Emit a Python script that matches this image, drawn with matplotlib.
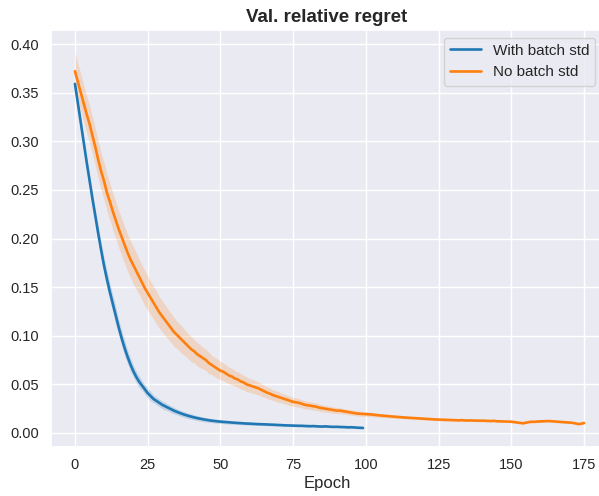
import numpy as np
import matplotlib
matplotlib.use("Agg")
import matplotlib.pyplot as plt
import seaborn as sns

# Mean validation relative regret per epoch, with half-width of the confidence band
with_std_mean = [
    0.359, 0.339, 0.319, 0.299, 0.279, 0.260, 0.241, 0.223, 0.205, 0.188,
    0.172, 0.158, 0.145, 0.133, 0.121, 0.109, 0.098, 0.088, 0.079, 0.071,
    0.064, 0.058, 0.053, 0.049, 0.045, 0.041, 0.038, 0.035, 0.033, 0.031,
    0.029, 0.0275, 0.026, 0.0245, 0.023, 0.0218, 0.0206, 0.0195, 0.0185, 0.0176,
    0.0168, 0.0160, 0.0153, 0.0147, 0.0141, 0.0136, 0.0131, 0.0127, 0.0123, 0.0120,
    0.0117, 0.0114, 0.0112, 0.0110, 0.0107, 0.0105, 0.0103, 0.0101, 0.0099, 0.0097,
    0.0096, 0.0094, 0.0093, 0.0091, 0.0090, 0.0089, 0.0088, 0.0086, 0.0085, 0.0084,
    0.0082, 0.0081, 0.0079, 0.0078, 0.0077, 0.0076, 0.0075, 0.0074, 0.0074, 0.0072,
    0.0071, 0.0070, 0.0071, 0.0069, 0.0067, 0.0066, 0.0068, 0.0066, 0.0064, 0.0063,
    0.0064, 0.0062, 0.0061, 0.0060, 0.0058, 0.0059, 0.0057, 0.0055, 0.0053, 0.0052,
]
with_std_band = [
    0.003, 0.004, 0.005, 0.005, 0.006, 0.006, 0.007, 0.007, 0.008, 0.008,
    0.008, 0.009, 0.009, 0.009, 0.009, 0.008, 0.008, 0.008, 0.007, 0.007,
    0.006, 0.006, 0.006, 0.005, 0.005, 0.005, 0.005, 0.004, 0.004, 0.004,
    0.004, 0.004, 0.0035, 0.0035, 0.0035, 0.003, 0.003, 0.003, 0.003, 0.003,
    0.0028, 0.0027, 0.0026, 0.0025, 0.0024, 0.0023, 0.0022, 0.0021, 0.0020, 0.0020,
    0.0019, 0.0019, 0.0018, 0.0018, 0.0017, 0.0017, 0.0016, 0.0016, 0.0015, 0.0015,
    0.0015, 0.0014, 0.0014, 0.0014, 0.0013, 0.0013, 0.0013, 0.0012, 0.0012, 0.0012,
    0.0012, 0.0011, 0.0011, 0.0011, 0.0011, 0.0011, 0.0010, 0.0010, 0.0010, 0.0010,
    0.0010, 0.0010, 0.0010, 0.0010, 0.0009, 0.0009, 0.0009, 0.0009, 0.0009, 0.0009,
    0.0009, 0.0009, 0.0008, 0.0008, 0.0008, 0.0008, 0.0008, 0.0008, 0.0008, 0.0008,
]

no_std_mean = [
    0.372, 0.361, 0.350, 0.339, 0.328, 0.318, 0.306, 0.294, 0.281, 0.269,
    0.259, 0.247, 0.238, 0.228, 0.219, 0.210, 0.202, 0.194, 0.186, 0.179,
    0.173, 0.167, 0.161, 0.155, 0.149, 0.144, 0.139, 0.134, 0.129, 0.124,
    0.120, 0.116, 0.112, 0.108, 0.104, 0.101, 0.098, 0.095, 0.092, 0.089,
    0.086, 0.084, 0.081, 0.079, 0.077, 0.075, 0.072, 0.070, 0.068, 0.066,
    0.064, 0.063, 0.061, 0.059, 0.058, 0.056, 0.055, 0.053, 0.052, 0.050,
    0.049, 0.048, 0.047, 0.046, 0.0445, 0.043, 0.0415, 0.0405, 0.039, 0.038,
    0.037, 0.036, 0.035, 0.034, 0.033, 0.032, 0.0315, 0.031, 0.030, 0.029,
    0.0285, 0.028, 0.0275, 0.027, 0.026, 0.0255, 0.025, 0.0245, 0.024, 0.0235,
    0.023, 0.023, 0.0225, 0.022, 0.0215, 0.021, 0.0205, 0.020, 0.0198, 0.0196,
    0.0195, 0.0192, 0.0190, 0.0186, 0.0183, 0.0180, 0.0177, 0.0175, 0.0172, 0.0170,
    0.0168, 0.0165, 0.0162, 0.0160, 0.0158, 0.0156, 0.0153, 0.0151, 0.0150, 0.0148,
    0.0145, 0.0143, 0.0142, 0.0140, 0.0139, 0.0138, 0.0136, 0.0135, 0.0134, 0.0134,
    0.0133, 0.0131, 0.0130, 0.0132, 0.0129, 0.0128, 0.0130, 0.0127, 0.0128, 0.0126,
    0.0127, 0.0125, 0.0124, 0.0123, 0.0125, 0.0121, 0.0120, 0.0119, 0.0118, 0.0118,
    0.0116, 0.0112, 0.0108, 0.0104, 0.0100, 0.0106, 0.0112, 0.0116, 0.0115, 0.0118,
    0.0119, 0.0121, 0.0122, 0.0123, 0.0120, 0.0118, 0.0116, 0.0115, 0.0112, 0.0110,
    0.0108, 0.0105, 0.0098, 0.0092, 0.0095, 0.0103,
]
no_std_band = [
    0.019, 0.019, 0.019, 0.019, 0.019, 0.019, 0.019, 0.019, 0.019, 0.019,
    0.019, 0.019, 0.019, 0.019, 0.019, 0.019, 0.019, 0.019, 0.019, 0.019,
    0.019, 0.019, 0.018, 0.018, 0.018, 0.018, 0.017, 0.017, 0.017, 0.016,
    0.016, 0.016, 0.015, 0.015, 0.015, 0.014, 0.014, 0.014, 0.013, 0.013,
    0.013, 0.012, 0.012, 0.012, 0.011, 0.011, 0.011, 0.010, 0.010, 0.010,
    0.0095, 0.009, 0.009, 0.0085, 0.0085, 0.008, 0.008, 0.008, 0.0075, 0.0075,
    0.007, 0.007, 0.007, 0.0065, 0.0065, 0.006, 0.006, 0.006, 0.0055, 0.0055,
    0.0055, 0.005, 0.005, 0.005, 0.0048, 0.0046, 0.0045, 0.0044, 0.0043, 0.0042,
    0.0041, 0.0040, 0.0039, 0.0038, 0.0037, 0.0036, 0.0035, 0.0034, 0.0033, 0.0032,
    0.0031, 0.0030, 0.0029, 0.0028, 0.0027, 0.0027, 0.0026, 0.0025, 0.0024, 0.0024,
    0.0023, 0.0022, 0.0022, 0.0021, 0.0020, 0.0020, 0.0019, 0.0018, 0.0018, 0.0017,
    0.0016, 0.0016, 0.0015, 0.0015, 0.0014, 0.0014, 0.0013, 0.0013, 0.0012, 0.0012,
    0.0012, 0.0012, 0.0011, 0.0011, 0.0011, 0.0011, 0.0011, 0.0011, 0.0010, 0.0010,
    0.0010, 0.0010, 0.0010, 0.0010, 0.0010, 0.0010, 0.0010, 0.0010, 0.0010, 0.0010,
    0.0010, 0.0010, 0.0010, 0.0010, 0.0010, 0.0010, 0.0010, 0.0010, 0.0010, 0.0010,
    0.0010, 0.0010, 0.0010, 0.0010, 0.0010, 0.0010, 0.0010, 0.0010, 0.0010, 0.0010,
    0.0010, 0.0010, 0.0010, 0.0010, 0.0010, 0.0010, 0.0010, 0.0010, 0.0010, 0.0010,
    0.0010, 0.0010, 0.0010, 0.0010, 0.0010, 0.0010,
]

series_labels = ["With batch std", "No batch std"]
x_ticks = [0, 25, 50, 75, 100, 125, 150, 175]
y_ticks = [0.00, 0.05, 0.10, 0.15, 0.20, 0.25, 0.30, 0.35, 0.40]

sns.set_theme(style="darkgrid")
plt.rcParams["font.family"] = ["Liberation Sans", "DejaVu Sans"]

fig = plt.figure(figsize=(5.99, 4.96), dpi=100)
ax = fig.add_axes([0.0846, 0.0988, 0.9221, 0.8407])

colors = ["#1f77b4", "#ff7f0e"]
for mean, band, label, color in [
    (with_std_mean, with_std_band, series_labels[0], colors[0]),
    (no_std_mean, no_std_band, series_labels[1], colors[1]),
]:
    m = np.asarray(mean)
    b = np.asarray(band)
    ep = np.arange(len(m))
    ax.fill_between(ep, m - b, m + b, color=color, alpha=0.2, linewidth=0)
    ax.plot(ep, m, color=color, linewidth=1.9, label=label)

ax.set_xlim(-8.35, 181.5)
ax.set_ylim(-0.0144, 0.4144)
ax.set_xticks(x_ticks)
ax.set_yticks(y_ticks)
ax.set_yticklabels([f"{v:.2f}" for v in y_ticks])
ax.tick_params(axis="both", labelsize=10.5, length=0, colors="#262626")
ax.tick_params(axis="y", pad=8.4)
ax.tick_params(axis="x", pad=8.0)

ax.set_xlabel("Epoch", fontsize=12, color="#262626", labelpad=3)
ax.set_title("Val. relative regret", fontsize=13.5, fontweight="bold", pad=6)
ax.legend(loc="upper right", fontsize=11)

fig.savefig("out.png", dpi=100)
